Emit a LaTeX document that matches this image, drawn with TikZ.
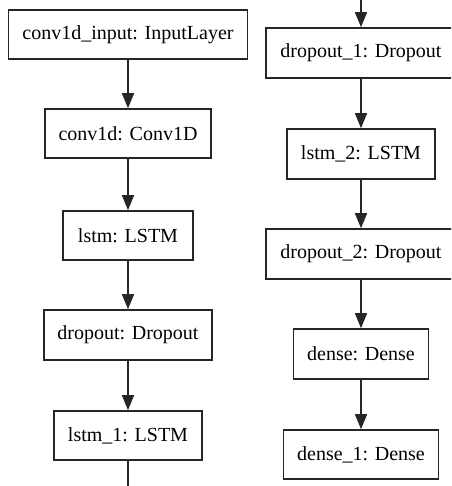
\documentclass[tikz,border=0pt]{standalone}
\usepackage{fontspec}
\setmainfont{Liberation Serif}
\usetikzlibrary{arrows.meta}
\begin{document}
\begin{tikzpicture}[x=1pt,y=-1pt,
  layer/.style={draw=black!85, line width=1.6pt, minimum height=49pt, inner sep=0pt,
                font=\fontsize{20}{24}\selectfont, text=black},
  flow/.style={draw=black!85, line width=1.6pt, -{Triangle[length=15pt,width=12pt]}},
  tail/.style={draw=black!85, line width=1.6pt}]
\useasboundingbox (0,0) rectangle (451,486);
\clip (0,0) rectangle (451,486);
% first column
\node[layer, minimum width=239pt] (input)  at (128,34.5)  {conv1d\_input: InputLayer};
\node[layer, minimum width=166pt] (conv)   at (128,133.5) {conv1d: Conv1D};
\node[layer, minimum width=130pt] (lstm)   at (128,235.5) {lstm: LSTM};
\node[layer, minimum width=168pt, minimum height=50pt] (drop) at (128,335) {dropout: Dropout};
\node[layer, minimum width=148pt] (lstmA)  at (128,435.5) {lstm\_1: LSTM};
\coordinate (colend) at (128,486);
% second column
\coordinate (colstart) at (361,0);
\node[layer, minimum width=190pt, minimum height=50pt] (dropA) at (361,53)  {dropout\_1: Dropout};
\node[layer, minimum width=148pt, minimum height=50pt] (lstmB) at (361,154) {lstm\_2: LSTM};
\node[layer, minimum width=190pt, minimum height=50pt] (dropB) at (361,254) {dropout\_2: Dropout};
\node[layer, minimum width=135pt, minimum height=50pt] (dense) at (361,354) {dense: Dense};
\node[layer, minimum width=155pt] (denseA) at (361,454.5) {dense\_1: Dense};
% connectors
\draw[flow] (input) -- (conv);
\draw[flow] (conv) -- (lstm);
\draw[flow] (lstm) -- (drop);
\draw[flow] (drop) -- (lstmA);
\draw[tail] (lstmA) -- (colend);
\draw[flow] (colstart) -- (dropA);
\draw[flow] (dropA) -- (lstmB);
\draw[flow] (lstmB) -- (dropB);
\draw[flow] (dropB) -- (dense);
\draw[flow] (dense) -- (denseA);
\end{tikzpicture}
\end{document}
